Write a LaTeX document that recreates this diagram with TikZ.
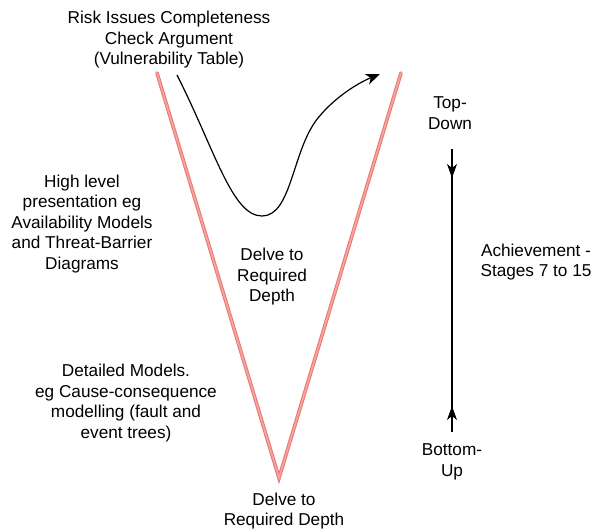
\documentclass[tikz,border=0pt]{standalone}
\usepackage{fontspec}
\setmainfont{Liberation Sans}
\usetikzlibrary{arrows.meta}
\definecolor{vedge}{HTML}{E8736E}
\definecolor{vfill}{HTML}{F4A3A0}
\tikzset{
  lbl/.style={align=center, font=\fontsize{17.2}{20.5}\selectfont, inner sep=0pt},
  flow/.style={line width=1.2pt, black},
  tip/.style={-{Stealth[length=14pt,width=10pt,inset=4pt]}},
}
\begin{document}
\begin{tikzpicture}[x=1pt,y=-1pt]
\useasboundingbox (0,0) rectangle (594,531);
% V shape
\coordinate (vl) at (157,73);
\coordinate (vb) at (279,478);
\coordinate (vr) at (401,73);
\draw[vedge, line width=3.6pt, line cap=round, line join=miter] (vl) -- (vb) -- (vr);
\draw[vfill, line width=1.8pt, line cap=round, line join=miter] (vl) -- (vb) -- (vr);
% curve
\coordinate (cs) at (177,75);
\coordinate (cm) at (262,216);
\coordinate (ce) at (380,74);
\draw[flow, -{Stealth[length=14pt,width=11pt,inset=4pt]}] (cs) .. controls (215,150) and (232,216) .. (cm)
  .. controls (292,216) and (292,150) .. (318,118) .. controls (335,97) and (358,83) .. (ce);
% vertical line
\coordinate (lt) at (452,149);
\coordinate (lb) at (452,432);
\draw[flow] (lt) -- (lb);
\draw[flow, tip] (lt) -- (452,178);
\draw[flow, tip] (lb) -- (452,406);
% labels
\node[lbl] (risk) at (169,40) {Risk Issues Completeness\\Check Argument\\(Vulnerability Table)};
\node[lbl] (top) at (450,113) {Top-\\Down};
\node[lbl] (high) at (82,224) {High level\\presentation eg\\Availability Models\\and Threat-Barrier\\Diagrams};
\node[lbl] (delve1) at (272,277) {Delve to\\Required\\Depth};
\node[lbl] (ach) at (536,262) {Achievement -\\Stages 7 to 15};
\node[lbl] (det) at (126,403) {Detailed Models.\\eg Cause-consequence\\modelling (fault and\\event trees)};
\node[lbl] (bot) at (452,462) {Bottom-\\Up};
\node[lbl] (delve2) at (284,511) {Delve to\\Required Depth};
\end{tikzpicture}
\end{document}
